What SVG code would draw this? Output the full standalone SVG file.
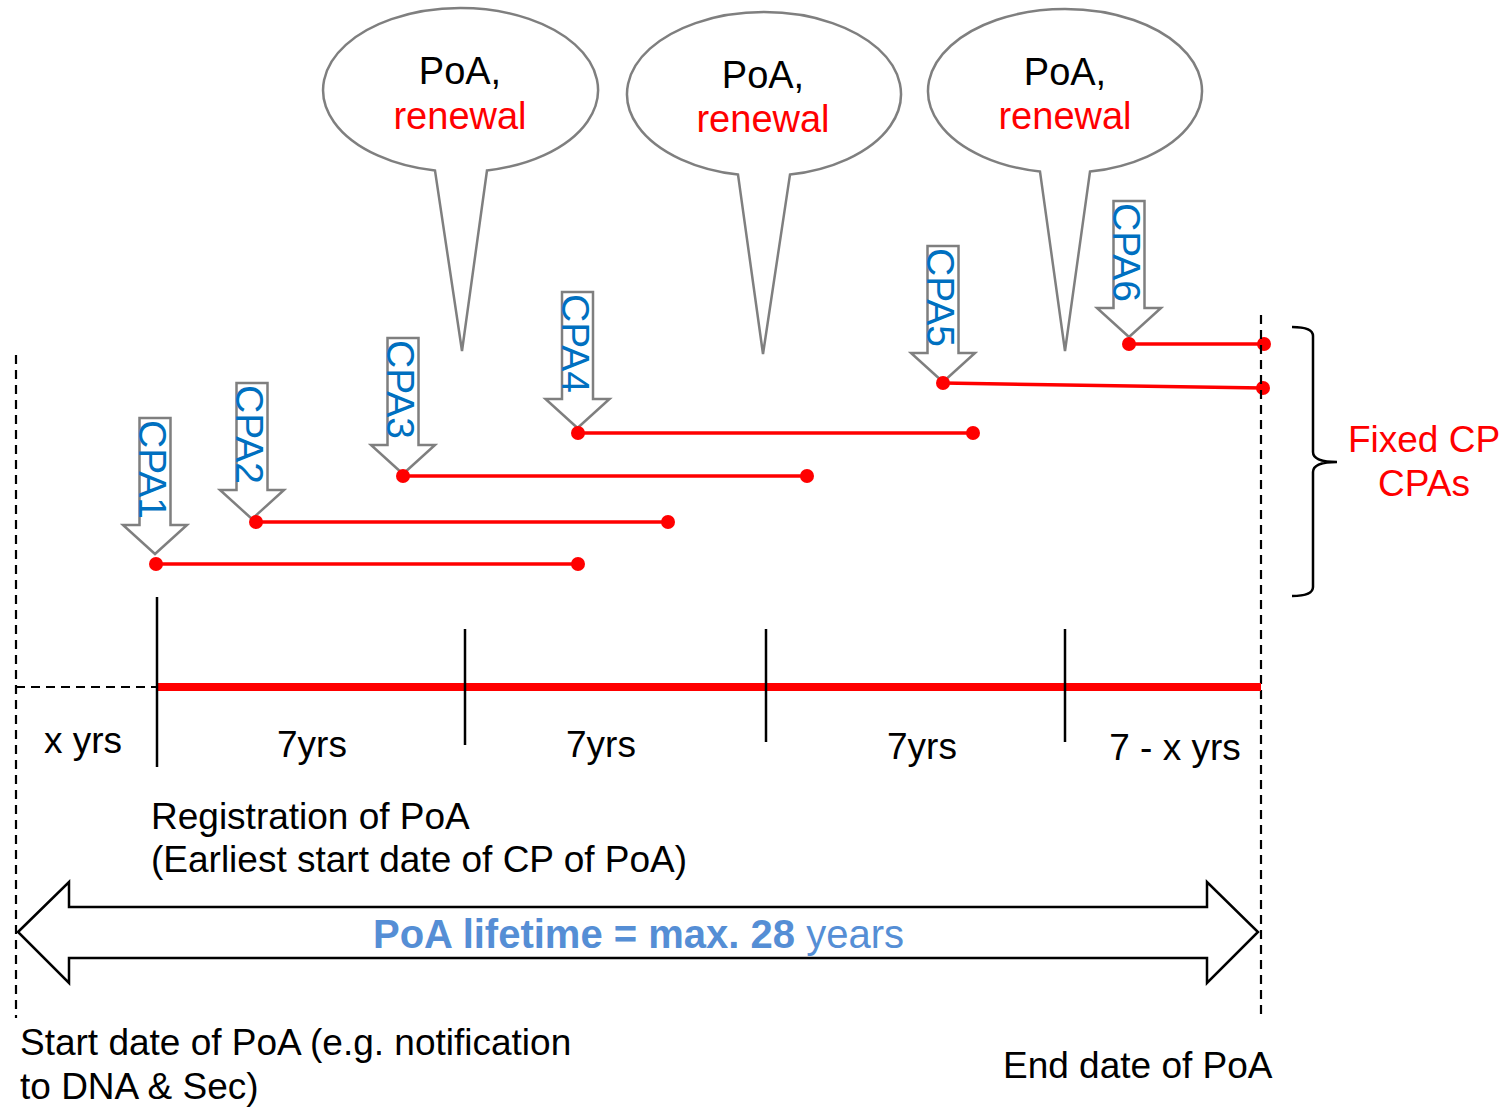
<svg xmlns="http://www.w3.org/2000/svg" width="1510" height="1108" viewBox="0 0 1510 1108">
<style>
text{font-family:"Liberation Sans",Arial,sans-serif;}
.t{font-size:37px;fill:#000;}
.call{fill:#fff;stroke:#7f7f7f;stroke-width:2.5;}
.ctext{font-size:38px;text-anchor:middle;}
.cpa{fill:#fff;stroke:#7f7f7f;stroke-width:2.5;}
.cpat{font-size:39px;fill:#0070C0;}
.seg{stroke:#ff0000;stroke-width:3.5;fill:none;}
.dot{fill:#ff0000;}
.dash{stroke:#000;stroke-width:2.2;stroke-dasharray:9,6;fill:none;}
.tick{stroke:#000;stroke-width:2.5;}
.red{fill:#ff0000;}
</style>
<defs>
<path id="cpaArrow" d="M-15.5,0 L15.5,0 L15.5,107 L32,107 L0,136 L-32,107 L-15.5,107 Z"/>
</defs>

<!-- callouts -->
<g id="callout1">
<path class="call" d="M435,170.6 A137.5 82 0 1 1 487,170.5 L462,351 Z"/>
<text class="ctext" x="460" y="84">PoA,</text>
<text class="ctext red" x="460" y="129">renewal</text>
</g>
<g id="callout2">
<path class="call" d="M738,174.6 A137 82 0 1 1 790,174.6 L763,354 Z"/>
<text class="ctext" x="763" y="88">PoA,</text>
<text class="ctext red" x="763" y="132">renewal</text>
</g>
<g id="callout3">
<path class="call" d="M1040,171.6 A137 82 0 1 1 1090,171.6 L1065,351 Z"/>
<text class="ctext" x="1065" y="85">PoA,</text>
<text class="ctext red" x="1065" y="129">renewal</text>
</g>

<!-- CPA arrows -->
<g id="cpa1">
<use href="#cpaArrow" class="cpa" transform="translate(155,418)"/>
<text class="cpat" transform="translate(139,420) rotate(90)">CPA1</text>
</g>
<g id="cpa2">
<use href="#cpaArrow" class="cpa" transform="translate(252,383)"/>
<text class="cpat" transform="translate(236,385) rotate(90)">CPA2</text>
</g>
<g id="cpa3">
<use href="#cpaArrow" class="cpa" transform="translate(403,338)"/>
<text class="cpat" transform="translate(387,340) rotate(90)">CPA3</text>
</g>
<g id="cpa4">
<use href="#cpaArrow" class="cpa" transform="translate(577.5,292)"/>
<text class="cpat" transform="translate(562,294) rotate(90)">CPA4</text>
</g>
<g id="cpa5">
<use href="#cpaArrow" class="cpa" transform="translate(943,246)"/>
<text class="cpat" transform="translate(927,248) rotate(90)">CPA5</text>
</g>
<g id="cpa6">
<use href="#cpaArrow" class="cpa" transform="translate(1129,201)"/>
<text class="cpat" transform="translate(1113,203) rotate(90)">CPA6</text>
</g>

<!-- CP segments -->
<g id="connectors">
<line class="seg" x1="156" y1="564" x2="578" y2="564"/>
<line class="seg" x1="256" y1="522" x2="668" y2="522"/>
<line class="seg" x1="403" y1="476" x2="807" y2="476"/>
<line class="seg" x1="578" y1="433" x2="973" y2="433"/>
<line class="seg" x1="943" y1="383" x2="1263" y2="388"/>
<line class="seg" x1="1129" y1="344" x2="1264" y2="344"/>
<circle class="dot" cx="156" cy="564" r="7"/><circle class="dot" cx="578" cy="564" r="7"/>
<circle class="dot" cx="256" cy="522" r="7"/><circle class="dot" cx="668" cy="522" r="7"/>
<circle class="dot" cx="403" cy="476" r="7"/><circle class="dot" cx="807" cy="476" r="7"/>
<circle class="dot" cx="578" cy="433" r="7"/><circle class="dot" cx="973" cy="433" r="7"/>
<circle class="dot" cx="943" cy="383" r="7"/><circle class="dot" cx="1263" cy="388" r="7"/>
<circle class="dot" cx="1129" cy="344" r="7"/><circle class="dot" cx="1264" cy="344" r="7"/>

<!-- timeline -->
<line class="dash" x1="16" y1="355" x2="16" y2="1018"/>
<line class="dash" x1="1261" y1="315" x2="1261" y2="1018"/>
<line class="dash" x1="16" y1="687" x2="157" y2="687"/>
<line x1="157" y1="687" x2="1261" y2="687" stroke="#ff0000" stroke-width="8"/>
<line class="tick" x1="157" y1="597" x2="157" y2="767"/>
<line class="tick" x1="465" y1="629" x2="465" y2="745"/>
<line class="tick" x1="766" y1="629" x2="766" y2="742"/>
<line class="tick" x1="1065" y1="629" x2="1065" y2="742"/>

<!-- brace -->
<path d="M1292,327 Q1313,327 1313,336 L1313,452 Q1313,462 1337,462 Q1313,462 1313,472 L1313,587 Q1313,596 1292,596" fill="none" stroke="#000" stroke-width="2.5"/>

<!-- lifetime arrow -->
<path d="M18,932 L69,882 L69,907 L1207,907 L1207,882 L1258,932 L1207,983 L1207,958 L69,958 L69,983 Z" fill="#fff" stroke="#000" stroke-width="2.5"/>
</g>

<!-- labels -->
<g id="labels">
<text class="t" x="44" y="753">x yrs</text>
<text class="t" x="312" y="757" text-anchor="middle">7yrs</text>
<text class="t" x="601" y="757" text-anchor="middle">7yrs</text>
<text class="t" x="922" y="759" text-anchor="middle">7yrs</text>
<text class="t" x="1175" y="760" text-anchor="middle">7 - x yrs</text>
<text class="t" x="151" y="829">Registration of PoA</text>
<text class="t" x="151" y="872">(Earliest start date of CP of PoA)</text>
<text class="t" x="20" y="1055">Start date of PoA (e.g. notification</text>
<text class="t" x="20" y="1099">to DNA &amp; Sec)</text>
<text class="t" x="1003" y="1078">End date of PoA</text>
<text class="t red" x="1424" y="452" text-anchor="middle">Fixed CP</text>
<text class="t red" x="1424" y="496" text-anchor="middle">CPAs</text>
<text x="373" y="948" font-size="40" fill="#558ED5"><tspan font-weight="bold">PoA lifetime = max. 28</tspan> years</text>
</g>
</svg>
